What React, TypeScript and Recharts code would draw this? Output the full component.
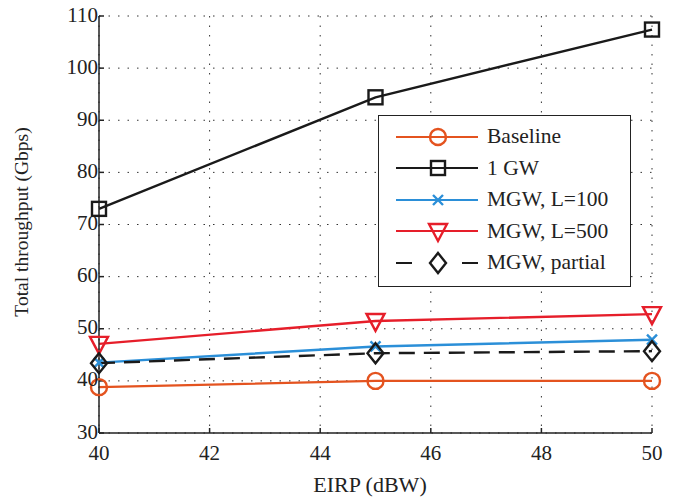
import { LineChart, Line, XAxis, YAxis, CartesianGrid } from "recharts";

const eirp = [40, 45, 50];
const baseline = [38.8, 40, 40];
const oneGw = [73, 94.4, 107.4];
const mgw100 = [43.5, 46.6, 47.9];
const mgw500 = [47.1, 51.5, 52.8];
const mgwPartial = [43.4, 45.3, 45.7];

const xTicks = [40, 42, 44, 46, 48, 50];
const yTicks = [30, 40, 50, 60, 70, 80, 90, 100, 110];

const data = eirp.map((x, i) => ({
  x,
  baseline: baseline[i],
  oneGw: oneGw[i],
  mgw100: mgw100[i],
  mgw500: mgw500[i],
  mgwPartial: mgwPartial[i],
}));

const FONT = "Liberation Serif";
const INK = "#222";

type Shape = "circle" | "square" | "x" | "tri" | "diamond";

const series: { key: string; name: string; color: string; shape: Shape; dash?: string }[] = [
  { key: "baseline", name: "Baseline", color: "#e4531f", shape: "circle" },
  { key: "oneGw", name: "1 GW", color: "#1a1a1a", shape: "square" },
  { key: "mgw100", name: "MGW, L=100", color: "#2b8fd8", shape: "x" },
  { key: "mgw500", name: "MGW, L=500", color: "#e61e2a", shape: "tri" },
  { key: "mgwPartial", name: "MGW, partial", color: "#1a1a1a", shape: "diamond", dash: "16 9" },
];

function Marker({ cx, cy, shape, color }: { cx: number; cy: number; shape: Shape; color: string }) {
  const p = { fill: "none", stroke: color, strokeWidth: 2.4 };
  if (shape === "circle") return <circle cx={cx} cy={cy} r={8} {...p} />;
  if (shape === "square") return <rect x={cx - 7} y={cy - 7} width={14} height={14} {...p} />;
  if (shape === "x")
    return <path d={`M${cx - 5},${cy - 5}L${cx + 5},${cy + 5}M${cx - 5},${cy + 5}L${cx + 5},${cy - 5}`} {...p} />;
  if (shape === "tri")
    return <path d={`M${cx - 9},${cy - 7}L${cx + 9},${cy - 7}L${cx},${cy + 10}Z`} {...p} />;
  return <path d={`M${cx},${cy - 10}L${cx + 8},${cy}L${cx},${cy + 10}L${cx - 8},${cy}Z`} {...p} />;
}

function XTick({ x, y, payload }: any) {
  return (
    <text x={x} y={y + 29.5} textAnchor="middle" style={{ fontFamily: FONT, fontSize: 21 }} fill={INK}>
      {payload.value}
    </text>
  );
}

function YTick({ x, y, payload }: any) {
  return (
    <text x={x - 4} y={y + 5.5} textAnchor="end" style={{ fontFamily: FONT, fontSize: 21 }} fill={INK}>
      {payload.value}
    </text>
  );
}

function LegendBox() {
  return (
    <div
      style={{
        position: "absolute",
        left: 378,
        top: 115,
        width: 253,
        height: 172,
        border: "1.5px solid #222",
        background: "#fff",
        boxSizing: "border-box",
        fontFamily: FONT,
        fontSize: 21.5,
        color: INK,
      }}
    >
      {series.map((s, i) => (
        <div key={s.key} style={{ display: "flex", alignItems: "center", height: 28, marginTop: i === 0 ? 6.5 : 3.5 }}>
          <svg width={104} height={28} style={{ flex: "none" }}>
            <line x1={17} x2={99} y1={14} y2={14} stroke={s.color} strokeWidth={2.2} strokeDasharray={s.dash ? "16 50 16" : undefined} />
            <Marker cx={59} cy={14} shape={s.shape} color={s.color} />
          </svg>
          <span style={{ marginLeft: 4, whiteSpace: "nowrap" }}>{s.name}</span>
        </div>
      ))}
    </div>
  );
}

export default function App() {
  return (
    <div style={{ position: "absolute", left: 0, top: 0, width: 683, height: 498, background: "#fff", fontFamily: FONT }}>
      <LineChart width={683} height={498} data={data} margin={{ top: 16, right: 31, bottom: 0, left: 0 }}>
        <CartesianGrid stroke="#333" strokeDasharray="1.5 8" />
        <XAxis
          dataKey="x"
          type="number"
          domain={[40, 50]}
          ticks={xTicks}
          height={65}
          stroke={INK}
          strokeWidth={1.5}
          tickSize={-5}
          tick={<XTick />}
        />
        <XAxis xAxisId="top" dataKey="x" type="number" domain={[40, 50]} ticks={xTicks} orientation="top" height={0} stroke={INK} strokeWidth={1.5} tick={false} tickSize={-5} />
        <YAxis
          type="number"
          domain={[30, 110]}
          ticks={yTicks}
          width={99}
          stroke={INK}
          strokeWidth={1.5}
          tickSize={-5}
          tick={<YTick />}
        />
        <YAxis yAxisId="right" type="number" domain={[30, 110]} ticks={yTicks} orientation="right" width={0} stroke={INK} strokeWidth={1.5} tick={false} tickSize={-5} />
        {series.map((s) => (
          <Line
            key={s.key}
            dataKey={s.key}
            name={s.name}
            stroke={s.color}
            strokeWidth={2.4}
            strokeDasharray={s.dash}
            isAnimationActive={false}
            dot={(props: any) => <Marker key={`${s.key}-${props.index}`} cx={props.cx} cy={props.cy} shape={s.shape} color={s.color} />}
            activeDot={false}
          />
        ))}
        <text x={370} y={492} textAnchor="middle" style={{ fontFamily: FONT, fontSize: 22 }} fill={INK}>
          EIRP (dBW)
        </text>
        <text x={28} y={222} textAnchor="middle" transform="rotate(-90 28 222)" style={{ fontFamily: FONT, fontSize: 19.5 }} fill={INK}>
          Total throughput (Gbps)
        </text>
      </LineChart>
      <LegendBox />
    </div>
  );
}
